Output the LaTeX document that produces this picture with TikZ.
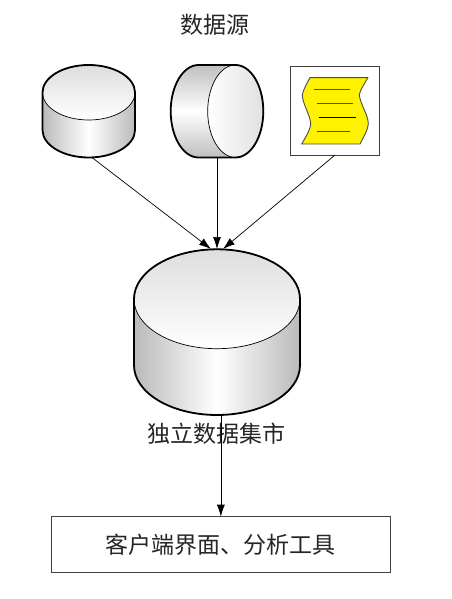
\documentclass[tikz,border=0pt]{standalone}
\usepackage{fontspec}
\usetikzlibrary{arrows.meta}
\newfontfamily\cjk{Noto Sans CJK SC}
\tikzset{
  outline/.style={draw=black,line width=1.8pt},
  thinedge/.style={draw=black,line width=0.7pt},
  sidefill/.style={left color=black!27,right color=black!27,middle color=white},
  capfill/.style={top color=black!13,bottom color=white},
  drumbody/.style={top color=black!25,bottom color=black!25,middle color=white},
  drumcap/.style={left color=white,right color=black!12},
  anchorbox/.style={inner sep=0pt,outer sep=0pt,rectangle},
  label/.style={font=\cjk\fontsize{23}{27}\selectfont,text=black!85,inner sep=0pt},
  flow/.style={draw=black,line width=0.7pt,-{Latex[length=12pt,width=8pt]}},
  frame/.style={draw=black!75!white,line width=1pt,fill=white},
  docline/.style={draw=black!70,line width=1pt},
}
\begin{document}
\begin{tikzpicture}[x=1pt,y=-1pt]
\useasboundingbox (0,0) rectangle (451,599);
% title
\node[label] (title) at (215,25) {数据源};
% small cylinder
\path[sidefill]
  (42.5,92.5) -- (42.5,130) arc[start angle=180,end angle=0,x radius=46.25,y radius=27.5] -- (135,92.5) -- cycle;
\path[capfill,thinedge] (88.75,92.5) ellipse[x radius=46.25,y radius=27.5];
\path[outline] (42.5,130) -- (42.5,92.5) arc[start angle=180,end angle=360,x radius=46.25,y radius=27.5] -- (135,130) arc[start angle=0,end angle=180,x radius=46.25,y radius=27.5];
\node[anchorbox,minimum width=92.5pt,minimum height=92.5pt] (src1) at (88.75,111.25) {};
% drum
\path[drumbody] (198.5,65) -- (235.5,65) -- (235.5,157.5) -- (198.5,157.5)
  arc[start angle=90,end angle=270,x radius=27.8,y radius=46.25] -- cycle;
\path[drumcap,thinedge] (235.5,111.25) ellipse[x radius=27.8,y radius=46.25];
\path[outline] (198.5,157.5) arc[start angle=90,end angle=270,x radius=27.8,y radius=46.25] -- (235.5,65) arc[start angle=270,end angle=450,x radius=27.8,y radius=46.25] -- cycle;
\node[anchorbox,minimum width=92.6pt,minimum height=92.5pt] (src2) at (217,111.25) {};
% document
\node[anchorbox,frame,minimum width=88.3pt,minimum height=88pt] (src3) at (334.85,111) {};
\path[fill=yellow,draw=black!70,line width=0.9pt]
  (310,77.7) -- (367.7,77.7) .. controls (364,85) and (360,90) .. (359.3,95)
  .. controls (360,103) and (368,115) .. (368.3,123.3)
  .. controls (368,130) and (363,138) .. (360,144)
  -- (301.7,144) .. controls (305,138) and (310.5,130) .. (310.7,123.3)
  .. controls (310,115) and (302.3,103) .. (302.3,95)
  .. controls (303,90) and (307,83) .. (310,77.7) -- cycle;
\path[docline] (314,90) -- (350,90);
\path[docline] (316.7,103.7) -- (352.7,103.7);
\path[docline,draw=black] (319.3,117.3) -- (356,117.3);
\path[docline] (316.7,131) -- (350,131);
% big cylinder
\path[sidefill]
  (134,299) -- (134,365.3) arc[start angle=180,end angle=0,x radius=83,y radius=49.7] -- (300,299) -- cycle;
\path[capfill,thinedge] (217,299) ellipse[x radius=83,y radius=49.7];
\path[outline] (134,365.3) -- (134,299) arc[start angle=180,end angle=360,x radius=83,y radius=49.7] -- (300,365.3) arc[start angle=0,end angle=180,x radius=83,y radius=49.7];
\node[anchorbox,minimum width=166pt,minimum height=166pt] (mart) at (217,332) {};
% client box
\node[anchorbox,frame,minimum width=338.3pt,minimum height=55.3pt,label] (client) at (220.85,544.35) {客户端界面、分析工具};
% mart label
\node[label] (martlabel) at (216.5,434) {独立数据集市};
% connectors
\draw[flow] ([xshift=3.25pt]src1.south) -- ([xshift=-6pt]mart.north);
\draw[flow] (src2.south) -- (mart.north);
\draw[flow] ([xshift=0.15pt]src3.south) -- ([xshift=6pt]mart.north);
\draw[flow] ([xshift=3.85pt]mart.south) -- (client.north);
\end{tikzpicture}
\end{document}
